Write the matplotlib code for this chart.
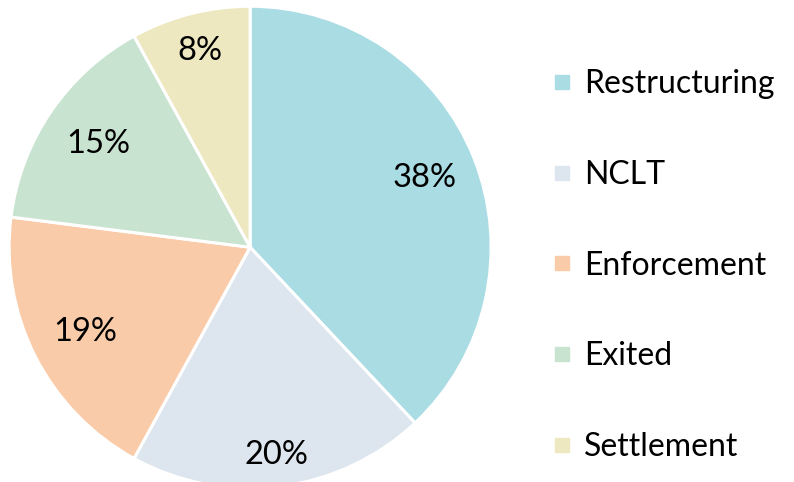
import matplotlib
matplotlib.use("Agg")
import matplotlib.pyplot as plt
from matplotlib.lines import Line2D
import numpy as np

categories = ["Restructuring", "NCLT", "Enforcement", "Exited", "Settlement"]
values = [38, 20, 19, 15, 8]
colors = ["#A9DCE3", "#DDE5EE", "#F9CBA8", "#C8E3CF", "#EDE8C0"]
label_dist = [0.78, 0.87, 0.77, 0.76, 0.84]

plt.rcParams['font.family'] = ['Lato', 'DejaVu Sans']
fig = plt.figure(figsize=(7.94, 4.82), dpi=100)
ax = fig.add_axes([0.0, -0.013, 0.63, 1.0])
wedges, texts = ax.pie(values, colors=colors, startangle=90, counterclock=False,
                       labels=[f"{v}%" for v in values], labeldistance=0.78,
                       wedgeprops=dict(edgecolor="white", linewidth=2.2),
                       textprops=dict(fontsize=23.5, color="black", ha="center", va="center"))
for w, t, d in zip(wedges, texts, label_dist):
    ang = np.deg2rad((w.theta1 + w.theta2) / 2)
    t.set_position((d * np.cos(ang), d * np.sin(ang)))
ax.set_xlim(-1.0, 1.0)
ax.set_ylim(-1.0, 1.0)
ax.set_aspect("equal")

handles = [Line2D([0], [0], marker="s", linestyle="none", markersize=10,
                  markerfacecolor=c, markeredgecolor=c) for c in colors]
fig.legend(handles, categories, loc="center left", bbox_to_anchor=(0.655, 0.449),
           frameon=False, fontsize=23, labelspacing=1.9, handletextpad=0.3,
           handlelength=0.8)
fig.savefig("out.png", dpi=100)
